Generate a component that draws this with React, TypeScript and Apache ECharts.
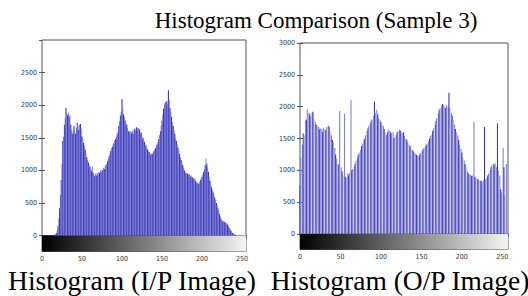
import React, { useEffect, useRef } from "react";
import * as echarts from "echarts";

const TITLE = "Histogram Comparison (Sample 3)";
const LABEL_IN = "Histogram (I/P Image)";
const LABEL_OUT = "Histogram (O/P Image)";
const Y_TICKS = [0, 500, 1000, 1500, 2000, 2500, 3000];
const X_TICKS = [0, 50, 100, 150, 200, 250];

// Input image histogram, bins 0..255
const IP_COUNTS = [
  0, 0, 0, 0, 0, 0, 0, 0, 0, 0, 0, 0, 0, 0, 0, 0,
  10, 20, 40, 80, 150, 260, 420, 620, 850, 1100, 1450, 1520, 1700, 1800, 1960, 1900,
  1850, 1880, 1820, 1850, 1700, 1620, 1560, 1600, 1680, 1600, 1560, 1650, 1730, 1680, 1620, 1700,
  1710, 1640, 1520, 1480, 1420, 1380, 1320, 1260, 1200, 1160, 1120, 1080, 1060, 1020, 990, 1060,
  960, 930, 910, 950, 920, 960, 940, 980, 960, 1000, 980, 1010, 1000, 1040, 1020, 1060,
  1080, 1100, 1140, 1180, 1220, 1260, 1300, 1340, 1360, 1400, 1420, 1460, 1480, 1520, 1560, 1600,
  1680, 1760, 1840, 1900, 2090, 1950, 1860, 1820, 1760, 1720, 1700, 1650, 1600, 1560, 1600, 1520,
  1580, 1600, 1560, 1620, 1640, 1600, 1660, 1620, 1650, 1600, 1630, 1560, 1580, 1520, 1480, 1500,
  1440, 1400, 1380, 1350, 1320, 1300, 1280, 1260, 1240, 1260, 1250, 1280, 1300, 1320, 1340, 1380,
  1400, 1440, 1480, 1540, 1600, 1680, 1760, 1860, 1950, 2010, 2040, 2000, 2060, 2020, 2230, 2080,
  1960, 1900, 1820, 1740, 1680, 1620, 1560, 1500, 1450, 1400, 1350, 1300, 1250, 1200, 1160, 1120,
  1080, 1040, 1000, 980, 960, 940, 950, 930, 940, 920, 900, 920, 890, 870, 880, 860,
  840, 820, 800, 810, 790, 820, 850, 880, 900, 940, 980, 1020, 1080, 1180, 1100, 1050,
  980, 900, 840, 780, 740, 700, 660, 620, 580, 540, 500, 460, 420, 380, 330, 290,
  250, 230, 220, 215, 210, 200, 190, 180, 170, 150, 120, 100, 80, 60, 40, 30,
  20, 15, 10, 5, 0, 0, 0, 0, 0, 0, 0, 0, 0, 0, 0, 0,
];

// Output image histogram, bins 0..255
const OP_COUNTS = [
  760, 1200, 0, 1400, 1580, 1550, 0, 1780, 1800, 1960, 0, 1900, 1880, 1850, 0, 1900,
  1920, 1800, 0, 1760, 1720, 1700, 0, 1680, 1640, 1660, 0, 1650, 1600, 1670, 0, 1640,
  1630, 1680, 0, 1710, 1680, 1600, 0, 1550, 1480, 1450, 0, 1350, 1250, 1180, 0, 1100,
  1080, 1930, 0, 1050, 980, 920, 0, 1890, 900, 880, 0, 950, 920, 960, 0, 2100,
  1000, 1020, 0, 1060, 1100, 1150, 0, 1200, 1250, 1280, 0, 1320, 1380, 1420, 0, 1480,
  1500, 1550, 0, 1620, 1660, 1700, 0, 1740, 1780, 1800, 0, 1860, 2080, 1900, 0, 1950,
  1880, 1820, 0, 1800, 1760, 1720, 0, 1700, 1650, 1580, 0, 1550, 1600, 1640, 0, 1620,
  1600, 1580, 0, 1600, 1500, 1520, 0, 1560, 1600, 1620, 0, 1640, 1620, 1600, 0, 1580,
  1600, 1540, 0, 1500, 1480, 1440, 0, 1400, 1380, 1340, 0, 1320, 1300, 1280, 0, 1260,
  1240, 1230, 0, 1220, 1250, 1270, 0, 1300, 1330, 1350, 0, 1380, 1400, 1420, 0, 1460,
  1500, 1540, 0, 1560, 1620, 1660, 0, 1720, 1780, 1820, 0, 1900, 1950, 1980, 0, 2020,
  2040, 2030, 0, 2000, 1980, 2020, 0, 2000, 2220, 1980, 0, 1900, 1860, 1800, 0, 1720,
  1650, 1600, 0, 1550, 1480, 1400, 0, 1340, 1280, 1200, 0, 1150, 1100, 1050, 0, 980,
  950, 940, 0, 930, 910, 920, 0, 1760, 900, 880, 0, 870, 860, 850, 0, 830,
  840, 820, 0, 850, 1680, 860, 0, 880, 920, 950, 0, 1000, 1050, 1080, 0, 1100,
  1080, 1120, 0, 1050, 1740, 1000, 0, 920, 700, 650, 0, 1350, 1050, 600, 0, 1100,
];

const SERIF = "'Liberation Serif', 'Times New Roman', serif";
const NARROW = "'Liberation Sans Narrow', 'DejaVu Sans Condensed', 'Roboto Condensed', 'Liberation Sans', sans-serif";
const AXIS_COLOR = "#555";
const LABEL_COLOR = "#333333";

function barData(counts: number[], dark: string, light: string) {
  return counts.map((v, i) => ({
    value: [i, v],
    itemStyle: { color: i % 2 === 0 ? dark : light },
  }));
}

function colorbarItem(params: any) {
  const cs = params.coordSys;
  return {
    type: "rect",
    shape: { x: cs.x, y: cs.y, width: cs.width, height: cs.height },
    style: {
      fill: new echarts.graphic.LinearGradient(0, 0, 1, 0, [
        { offset: 0, color: "#000000" },
        { offset: 1, color: "#f4f4f4" },
      ]),
    },
  };
}

export default function App() {
  const ref = useRef<HTMLDivElement>(null);
  useEffect(() => {
    if (!ref.current) return;
    const chart = echarts.init(ref.current, undefined, { renderer: "svg" });

    const grids = [
      { left: 42, top: 40, width: 204, height: 195.5 },
      { left: 42, top: 235.5, width: 204, height: 16 },
      { left: 300, top: 43, width: 208, height: 191 },
      { left: 300, top: 234, width: 208, height: 15.5 },
    ].map((g) => ({ ...g, show: true, borderColor: AXIS_COLOR, borderWidth: 1, backgroundColor: "#fff" }));

    const smallLabel = {
      fontFamily: NARROW,
      fontSize: 7,
      color: LABEL_COLOR,
      formatter: (v: number) => String(v),
    };
    const maxFor = [255, 255, 257, 257];

    const xAxes: any[] = [];
    const yAxes: any[] = [];
    [0, 1, 2, 3].forEach((gi) => {
      const isHist = gi % 2 === 0;
      xAxes.push({
        type: "value",
        gridIndex: gi,
        min: X_TICKS[0],
        max: maxFor[gi],
        interval: 50,
        position: "bottom",
        axisLine: { show: false },
        splitLine: { show: false },
        axisTick: { show: !isHist, inside: true, length: 2, lineStyle: { color: AXIS_COLOR } },
        axisLabel: isHist
          ? { show: false }
          : { ...smallLabel, showMaxLabel: false, margin: 4 },
      });
      if (isHist) {
        xAxes.push({
          type: "value",
          gridIndex: gi,
          min: X_TICKS[0],
          max: maxFor[gi],
          interval: 50,
          position: "top",
          axisLine: { show: false },
          splitLine: { show: false },
          axisTick: { show: true, inside: true, length: 3, lineStyle: { color: AXIS_COLOR } },
          axisLabel: { show: false },
        });
      }
      yAxes.push({
        type: "value",
        gridIndex: gi,
        min: isHist ? Y_TICKS[0] : 0,
        max: isHist ? Y_TICKS[Y_TICKS.length - 1] : 1,
        interval: isHist ? 500 : 1,
        position: "left",
        show: isHist,
        axisLine: { show: false },
        splitLine: { show: false },
        axisTick: { show: true, inside: true, length: 3, lineStyle: { color: AXIS_COLOR } },
        axisLabel: { ...smallLabel, margin: 5, showMaxLabel: gi === 2 },
      });
      if (isHist) {
        yAxes.push({
          type: "value",
          gridIndex: gi,
          min: Y_TICKS[0],
          max: Y_TICKS[Y_TICKS.length - 1],
          interval: 500,
          position: "right",
          axisLine: { show: false },
          splitLine: { show: false },
          axisTick: { show: true, inside: true, length: 3, lineStyle: { color: AXIS_COLOR } },
          axisLabel: { show: false },
        });
      }
    });

    chart.setOption({
      animation: false,
      backgroundColor: "#ffffff",
      title: [
        { text: TITLE, left: 311, top: 4, textAlign: "center", textStyle: { fontFamily: SERIF, fontSize: 23, fontWeight: "normal", color: "#000" } },
        { text: LABEL_IN, left: 127, top: 261, textAlign: "center", textStyle: { fontFamily: SERIF, fontSize: 27.5, fontWeight: "normal", color: "#000" } },
        { text: LABEL_OUT, left: 395, top: 261, textAlign: "center", textStyle: { fontFamily: SERIF, fontSize: 27.5, fontWeight: "normal", color: "#000" } },
      ],
      grid: grids,
      xAxis: xAxes,
      yAxis: yAxes,
      series: [
        {
          type: "bar",
          xAxisIndex: 0,
          yAxisIndex: 0,
          barWidth: 0.9,
          data: barData(IP_COUNTS, "#2626b4", "#7a7ad2"),
        },
        {
          type: "custom",
          xAxisIndex: 2,
          yAxisIndex: 2,
          data: [[0, 0]],
          renderItem: colorbarItem,
          silent: true,
        },
        {
          type: "bar",
          xAxisIndex: 3,
          yAxisIndex: 3,
          barWidth: 1.1,
          data: barData(OP_COUNTS, "#3838bc", "#8282d0"),
        },
        {
          type: "custom",
          xAxisIndex: 5,
          yAxisIndex: 5,
          data: [[0, 0]],
          renderItem: colorbarItem,
          silent: true,
        },
      ],
    });
    return () => chart.dispose();
  }, []);
  return <div ref={ref} style={{ position: "fixed", left: 0, top: 0, width: 528, height: 296 }} />;
}
